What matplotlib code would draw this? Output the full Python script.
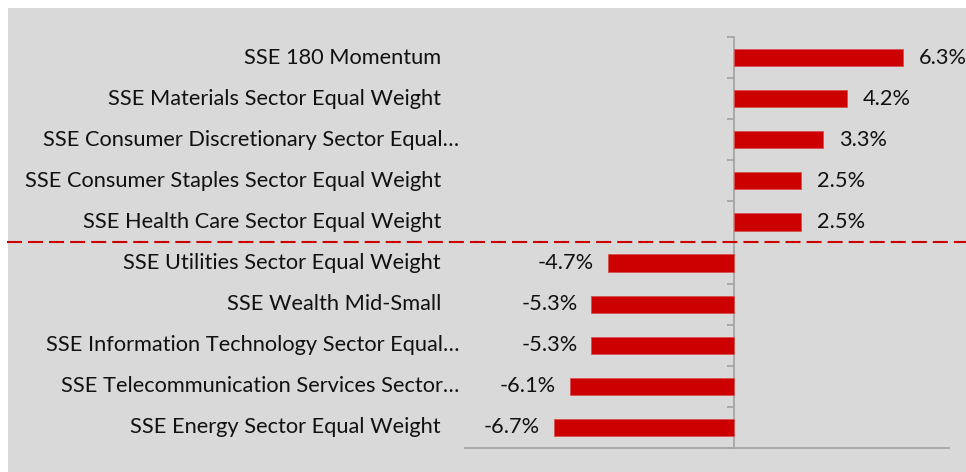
import matplotlib
matplotlib.use("Agg")
import matplotlib.pyplot as plt
from matplotlib.patches import Rectangle
from matplotlib.transforms import blended_transform_factory, offset_copy

categories = [
    "SSE 180 Momentum",
    "SSE Materials Sector Equal Weight",
    "SSE Consumer Discretionary Sector Equal\u2026",
    "SSE Consumer Staples Sector Equal Weight",
    "SSE Health Care Sector Equal Weight",
    "SSE Utilities Sector Equal Weight",
    "SSE Wealth Mid-Small",
    "SSE Information Technology Sector Equal\u2026",
    "SSE Telecommunication Services Sector\u2026",
    "SSE Energy Sector Equal Weight",
]
values = [6.3, 4.2, 3.3, 2.5, 2.5, -4.7, -5.3, -5.3, -6.1, -6.7]
value_labels = ["6.3%", "4.2%", "3.3%", "2.5%", "2.5%",
                "-4.7%", "-5.3%", "-5.3%", "-6.1%", "-6.7%"]

FONT = ["Lato", "DejaVu Sans"]
FS = 15.7
W, H = 966, 472
fig = plt.figure(figsize=(W / 100, H / 100), dpi=100)
fig.patch.set_facecolor("white")
bg = "#d9d9d9"
fig.patches.append(Rectangle((8 / W, 0), 1, 1 - 8 / H, transform=fig.transFigure,
                             facecolor=bg, edgecolor="none", zorder=-10))

left, right, top, bottom = 465, 949, 37, 448
ax = fig.add_axes([left / W, 1 - bottom / H, (right - left) / W, (bottom - top) / H])
ax.set_facecolor("none")
ax.set_zorder(1)

n = len(categories)
y = list(range(n))
ax.barh(y, values, height=0.42, color="#cc0000", edgecolor="#d65050", linewidth=0.6, zorder=3)
ax.set_xlim(-10, 8)
ax.set_ylim(n - 0.5, -0.5)

for s in ["top", "right"]:
    ax.spines[s].set_visible(False)
ax.spines["left"].set_position(("data", 0))
ax.spines["left"].set_color("#a6a6a6")
ax.spines["left"].set_linewidth(1.3)
ax.spines["bottom"].set_color("#a6a6a6")
ax.spines["bottom"].set_linewidth(1.3)
ax.set_xticks([])
ax.set_yticks([i - 0.5 for i in range(n + 1)])
ax.set_yticklabels([])
ax.tick_params(axis="y", direction="out", length=5, width=1.3, color="#a6a6a6")

# category labels
lab_tr = blended_transform_factory(fig.transFigure, ax.transData)
for i, c in enumerate(categories):
    xpos = 441 / W
    if c.endswith("\u2026"):
        xpos = 459 / W
    ax.text(xpos, i, c, transform=lab_tr, ha="right", va="center",
            fontsize=FS, family=FONT, color="#111111")

# value labels
for i, (v, lab) in enumerate(zip(values, value_labels)):
    if v >= 0:
        tr = offset_copy(ax.transData, fig=fig, x=16, y=0, units="dots")
        ax.text(v, i, lab, transform=tr, ha="left", va="center",
                fontsize=FS, family=FONT, color="#111111")
    else:
        tr = offset_copy(ax.transData, fig=fig, x=-14, y=0, units="dots")
        ax.text(v, i, lab, transform=tr, ha="right", va="center",
                fontsize=FS, family=FONT, color="#111111")

# dashed separator
ax.plot([7 / W, 1.0], [4.5, 4.5], transform=lab_tr, color="#cc0000", lw=1.5,
        dashes=(7.2, 2.9), clip_on=False, zorder=4)

fig.savefig("out.png", dpi=100, facecolor=fig.get_facecolor())
